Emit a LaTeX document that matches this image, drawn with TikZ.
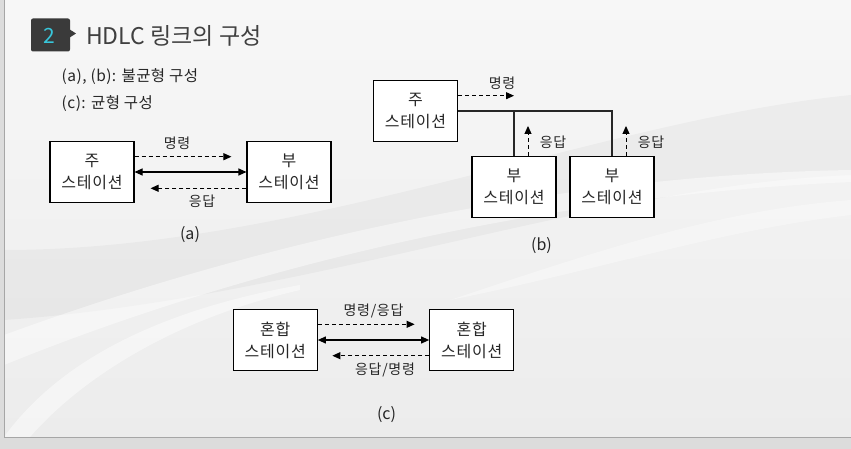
\documentclass[tikz,border=0pt]{standalone}
\usepackage{fontspec}
\setmainfont{Noto Sans CJK KR}
\newfontfamily\boxfont[LetterSpace=5]{Noto Sans CJK KR}
\newfontfamily\subfont[LetterSpace=3]{Noto Sans CJK KR}
\usetikzlibrary{arrows.meta,calc}
\definecolor{outgray}{HTML}{DCDCDC}
\definecolor{slidetop}{HTML}{F7F7F7}
\definecolor{slidebot}{HTML}{ECECEC}
\definecolor{framegray}{HTML}{A6A6A6}
\definecolor{badge}{HTML}{3A3A3A}
\definecolor{badgenum}{HTML}{38C6DA}
\definecolor{titlegray}{HTML}{404040}
\definecolor{textdark}{HTML}{262626}
\tikzset{
  stationbox/.style={draw=black,fill=white,line width=1.1pt,minimum width=84pt,minimum height=61pt,inner sep=0pt,align=center,font=\boxfont\fontsize{16}{22}\selectfont,text=textdark},
  lbl/.style={font=\boxfont\fontsize{14}{15}\selectfont,text=textdark,inner sep=0pt},
  caption/.style={font=\fontsize{16}{18}\selectfont,text=textdark,inner sep=0pt},
  solidarr/.style={line width=1.1pt,{Triangle[length=8pt,width=7pt]}-{Triangle[length=8pt,width=7pt]}},
  dasharr/.style={line width=1pt,dash pattern=on 4pt off 3pt,-{Triangle[length=8pt,width=7pt]}},
  wire/.style={line width=1.1pt,draw=black!85}
}
\begin{document}
\begin{tikzpicture}[x=1pt,y=-1pt]
\useasboundingbox (0,0) rectangle (851,449);
% background
\fill[outgray] (0,0) rectangle (851,449);
\shade[top color=slidetop,bottom color=slidebot] (4,0) rectangle (851,437);
\fill[black,opacity=0.03] (4,250) .. controls (300,250) and (600,120) .. (851,95) -- (851,175) .. controls (600,185) and (300,300) .. (4,320) -- cycle;
\fill[white,opacity=0.45] (4,335) .. controls (250,245) and (550,175) .. (851,170) -- (851,182) .. controls (550,195) and (250,265) .. (4,365) -- cycle;
\fill[white,opacity=0.45] (4,437) .. controls (60,360) and (160,310) .. (300,285) -- (300,290) .. controls (170,320) and (80,380) .. (30,437) -- cycle;
\fill[white,opacity=0.35] (450,300) .. controls (600,250) and (720,210) .. (851,200) -- (851,215) .. controls (720,230) and (600,270) .. (450,300) -- cycle;
\draw[framegray,line width=0.8pt] (4,0) -- (4,437) -- (851,437);
% title
\fill[badge,rounded corners=2pt] (31,18.5) rectangle (70,51.5);
\fill[badge] (69,29) -- (76,33.5) -- (69,38) -- cycle;
\node[font=\fontsize{21}{24}\selectfont,text=badgenum,inner sep=0pt] (num) at (49.5,35.5) {2};
\node[anchor=west,font=\fontsize{23}{26}\selectfont,text=titlegray,inner sep=0pt] (title) at (86,36) {HDLC 링크의 구성};
\node[anchor=west,font=\subfont\fontsize{15.5}{18}\selectfont,text=textdark,inner sep=0pt] (sub1) at (61.5,76.5) {(a), (b): 불균형 구성};
\node[anchor=west,font=\subfont\fontsize{15.5}{18}\selectfont,text=textdark,inner sep=0pt] (sub2) at (61.5,103.5) {(c): 균형 구성};
% (a)
\node[stationbox] (a1) at (92,172) {주\\스테이션};
\node[stationbox] (a2) at (289,172) {부\\스테이션};
\draw[dasharr] ([yshift=15.3pt]a1.east) -- ([yshift=15.3pt,xshift=-15pt]a2.west);
\draw[solidarr] (a1.east) -- (a2.west);
\draw[dasharr] ([yshift=-16.3pt]a2.west) -- ([yshift=-16.3pt,xshift=16pt]a1.east);
\node[lbl] (a1l) at (177,143) {명령};
\node[lbl] (a2l) at (202,201) {응답};
\node[caption] (acap) at (190,235) {(a)};
% (b)
\node[stationbox] (b1) at (415.5,111) {주\\스테이션};
\node[stationbox] (b2) at (514,187) {부\\스테이션};
\node[stationbox] (b3) at (612,187) {부\\스테이션};
\draw[wire] (b1.east) -| (b3.north);
\draw[wire] (b2.north) -- (b2.north |- b1.east);
\draw[dasharr] ([yshift=15.3pt]b1.east) -- ([yshift=15.3pt]b1.east -| b2.north);
\draw[dasharr] ([xshift=14pt]b2.north) -- ([xshift=14pt,yshift=30pt]b2.north);
\draw[dasharr] ([xshift=14pt]b3.north) -- ([xshift=14pt,yshift=30pt]b3.north);
\node[lbl] (b1l) at (502,83) {명령};
\node[lbl] (b2l) at (553,142) {응답};
\node[lbl] (b3l) at (651,142) {응답};
\node[caption] (bcap) at (541.5,246) {(b)};
% (c)
\node[stationbox] (c1) at (275.3,340) {혼합\\스테이션};
\node[stationbox] (c2) at (471.7,340) {혼합\\스테이션};
\draw[dasharr] ([yshift=15.7pt]c1.east) -- ([yshift=15.7pt,xshift=-14.5pt]c2.west);
\draw[solidarr] (c1.east) -- (c2.west);
\draw[dasharr] ([yshift=-15.7pt]c2.west) -- ([yshift=-15.7pt,xshift=14.5pt]c1.east);
\node[lbl] (c1l) at (373.5,311) {명령/응답};
\node[lbl] (c2l) at (385,369.5) {응답/명령};
\node[caption] (ccap) at (386.5,414.5) {(c)};
\end{tikzpicture}
\end{document}
